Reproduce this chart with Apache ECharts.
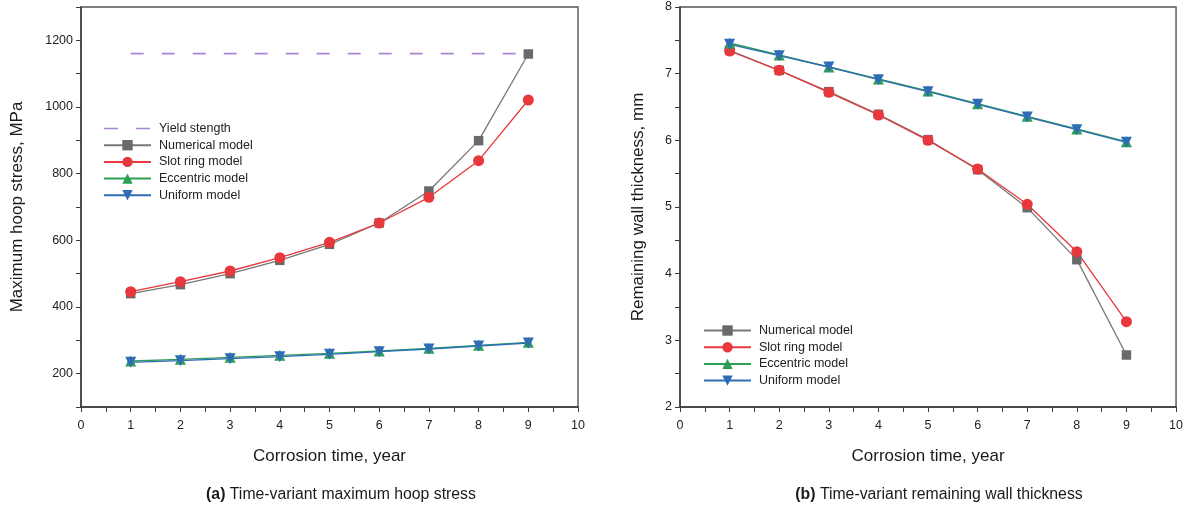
<!DOCTYPE html>
<html>
<head>
<meta charset="utf-8">
<script src="https://cdn.jsdelivr.net/npm/echarts@6/dist/echarts.min.js"></script>
<style>
  html, body { margin: 0; padding: 0; background: #fff; }
  #chart { width: 1186px; height: 507px; }
</style>
</head>
<body>
<div id="chart"></div>
<script>
// Corrosion time (years)
const years = [1, 2, 3, 4, 5, 6, 7, 8, 9];

// (a) Maximum hoop stress, MPa
const yieldYears = [1, 9];
const yieldStress = [1160, 1160];
const stressNumerical = [440, 467, 500, 540, 588, 652, 748, 899, 1159];
const stressSlotRing = [446, 476, 508, 548, 594, 652, 729, 839, 1021];
const stressEccentric = [238, 243, 249, 255, 261, 268, 276, 285, 294];
const stressUniform = [234, 239, 245, 251, 258, 266, 274, 283, 292];

// (b) Remaining wall thickness, mm
const wallNumerical = [7.35, 7.05, 6.73, 6.39, 6.01, 5.56, 4.99, 4.21, 2.78];
const wallSlotRing = [7.34, 7.05, 6.72, 6.38, 6.00, 5.57, 5.04, 4.33, 3.28];
const wallEccentric = [7.46, 7.28, 7.10, 6.92, 6.74, 6.55, 6.36, 6.17, 5.98];
const wallUniform = [7.44, 7.27, 7.10, 6.91, 6.73, 6.54, 6.35, 6.16, 5.97];

const FONT = "'Liberation Sans', Arial, sans-serif";
const AXIS_COLOR = '#3a3a3a';
const COLORS = {
  yield: '#ab84d9',
  numerical: '#777777',
  slot: '#e8383b',
  eccentric: '#2f9e57',
  uniform: '#2e6db6'
};

// Two short dashes for the yield-strength legend key (tiny corner dots fix the box to 47x13)
const DASH_ICON = 'path://M0,0 L0.01,0 L0.01,0.01 Z M46.99,13 L47,13 L47,12.99 Z ' +
  'M0,5.8 L14,5.8 L14,7.3 L0,7.3 Z M32,5.8 L46,5.8 L46,7.3 L32,7.3 Z';

const pairs = (xs, ys) => xs.map((x, i) => [x, ys[i]]);

function xAxisFor(gridIndex) {
  return {
    type: 'value', gridIndex, min: 0, max: 10, interval: 0.5,
    name: 'Corrosion time, year', nameLocation: 'middle', nameGap: 41,
    nameTextStyle: { fontFamily: FONT, fontSize: 17, color: '#1a1a1a' },
    axisLine: { show: true, onZero: false, lineStyle: { color: AXIS_COLOR, width: 1.5 } },
    axisTick: { show: true, inside: false, length: 5, lineStyle: { color: AXIS_COLOR, width: 1 } },
    axisLabel: {
      margin: 12, fontFamily: FONT, fontSize: 12.5, color: '#222',
      formatter: v => (Number.isInteger(v) ? String(v) : '')
    },
    splitLine: { show: false }
  };
}

function lineSeries(name, data, color, symbol, size, xi, yi, extra) {
  return Object.assign({
    name, type: 'line', xAxisIndex: xi, yAxisIndex: yi, data,
    symbol, symbolSize: size, showSymbol: true,
    lineStyle: { color, width: 1.3 },
    itemStyle: { color, borderWidth: 0 },
    emphasis: { disabled: true },
    animation: false
  }, extra || {});
}

function legendFor(names, left, top) {
  return {
    data: names, orient: 'vertical', left, top,
    itemWidth: 47, itemHeight: 13, itemGap: 3.7,
    textStyle: { fontFamily: FONT, fontSize: 12.5, color: '#222', padding: [0, 0, 0, 3] },
    selectedMode: false
  };
}

const captionStyle = {
  fontFamily: FONT, fontSize: 15.8, fontWeight: 'normal', color: '#1a1a1a',
  rich: { b: { fontFamily: FONT, fontSize: 15.8, fontWeight: 'bold', color: '#1a1a1a' } }
};

const chart = echarts.init(document.getElementById('chart'), null, { renderer: 'canvas' });

chart.setOption({
  backgroundColor: '#ffffff',
  animation: false,
  title: [
    { text: '{b|(a)} Time-variant maximum hoop stress', left: 336, top: 482, textAlign: 'center', textStyle: captionStyle },
    { text: '{b|(b)} Time-variant remaining wall thickness', left: 934, top: 482, textAlign: 'center', textStyle: captionStyle }
  ],
  legend: [
    legendFor([
      { name: 'Yield stength', icon: DASH_ICON },
      'Numerical model', 'Slot ring model', 'Eccentric model', 'Uniform model'
    ], 98, 117),
    legendFor(['Numerical model ', 'Slot ring model ', 'Eccentric model ', 'Uniform model '], 698, 319)
  ],
  grid: [
    { left: 81, right: 608, top: 7, bottom: 100, show: true, borderColor: '#555', borderWidth: 1.4, backgroundColor: 'transparent' },
    { left: 680, right: 8, top: 7, bottom: 100, show: true, borderColor: '#555', borderWidth: 1.4, backgroundColor: 'transparent' }
  ],
  xAxis: [xAxisFor(0), xAxisFor(1)],
  yAxis: [
    {
      type: 'value', gridIndex: 0, min: 100, max: 1300, interval: 100,
      name: 'Maximum hoop stress, MPa', nameLocation: 'middle', nameGap: 55,
      nameTextStyle: { fontFamily: FONT, fontSize: 17, color: '#1a1a1a' },
      axisLine: { show: true, lineStyle: { color: AXIS_COLOR, width: 1.5 } },
      axisTick: { show: true, inside: false, length: 5, lineStyle: { color: AXIS_COLOR, width: 1 } },
      axisLabel: {
        margin: 8, fontFamily: FONT, fontSize: 12.5, color: '#222',
        formatter: v => (v % 200 === 0 && v >= 200 && v <= 1200 ? String(v) : '')
      },
      splitLine: { show: false }
    },
    {
      type: 'value', gridIndex: 1, min: 2, max: 8, interval: 0.5,
      name: 'Remaining wall thickness, mm', nameLocation: 'middle', nameGap: 33,
      nameTextStyle: { fontFamily: FONT, fontSize: 17, color: '#1a1a1a' },
      axisLine: { show: true, lineStyle: { color: AXIS_COLOR, width: 1.5 } },
      axisTick: { show: true, inside: false, length: 5, lineStyle: { color: AXIS_COLOR, width: 1 } },
      axisLabel: {
        margin: 8, fontFamily: FONT, fontSize: 12.5, color: '#222',
        formatter: v => (Number.isInteger(v) ? String(v) : '')
      },
      splitLine: { show: false }
    }
  ],
  series: [
    // (a) hoop stress
    lineSeries('Yield stength', pairs(yieldYears, yieldStress), COLORS.yield, 'none', 0, 0, 0, {
      lineStyle: { color: COLORS.yield, width: 1.6, type: [13, 18] }
    }),
    lineSeries('Numerical model', pairs(years, stressNumerical), COLORS.numerical, 'rect', 9.5, 0, 0,
      { itemStyle: { color: '#6a6a6a' } }),
    lineSeries('Slot ring model', pairs(years, stressSlotRing), COLORS.slot, 'circle', 11, 0, 0),
    lineSeries('Eccentric model', pairs(years, stressEccentric), COLORS.eccentric, 'triangle', 11, 0, 0),
    lineSeries('Uniform model', pairs(years, stressUniform), COLORS.uniform, 'path://M0,0 L10,0 L5,9 Z', 11, 0, 0),
    // (b) wall thickness
    lineSeries('Numerical model ', pairs(years, wallNumerical), COLORS.numerical, 'rect', 9.5, 1, 1,
      { itemStyle: { color: '#6a6a6a' } }),
    lineSeries('Slot ring model ', pairs(years, wallSlotRing), COLORS.slot, 'circle', 11, 1, 1),
    lineSeries('Eccentric model ', pairs(years, wallEccentric), COLORS.eccentric, 'triangle', 11, 1, 1),
    lineSeries('Uniform model ', pairs(years, wallUniform), COLORS.uniform, 'path://M0,0 L10,0 L5,9 Z', 11, 1, 1)
  ]
});
</script>
</body>
</html>
